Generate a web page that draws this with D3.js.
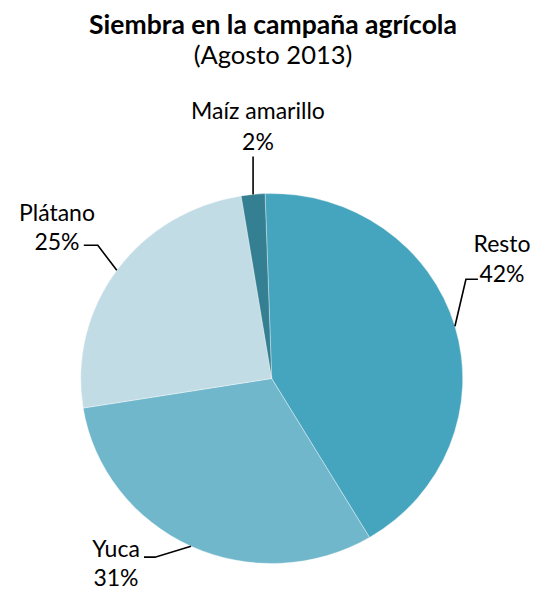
<!DOCTYPE html>
<html>
<head>
<meta charset="utf-8">
<script src="https://cdn.jsdelivr.net/npm/d3@7"></script>
<style>
  html, body { margin: 0; padding: 0; background: #fff; }
  svg { display: block; }
  text { font-family: Lato, "Noto Sans", sans-serif; fill: #000; }
</style>
</head>
<body>
<script>
// ---- data ----
const categories = ["Resto", "Yuca", "Plátano", "Maíz amarillo"];
const values = [42, 31, 25, 2];
const labels = ["42%", "31%", "25%", "2%"];
const colors = ["#46a5be", "#71b7cc", "#c2dce5", "#357f92"];
const titleText = "Siembra en la campaña agrícola";
const subtitleText = "(Agosto 2013)";

// ---- layout ----
const W = 533, H = 590;
const cx = 271.7, cy = 378.5;
const rx = 191, ry = 185;
const startDeg = -2;

const svg = d3.select("body").append("svg").attr("width", W).attr("height", H);

svg.append("text").attr("x", 273).attr("y", 34).attr("text-anchor", "middle")
  .style("font-weight", "bold").style("font-size", "26.5px").text(titleText);
svg.append("text").attr("x", 273).attr("y", 64).attr("text-anchor", "middle")
  .style("font-size", "25.5px").text(subtitleText);

const pie = d3.pie().sort(null).value(d => d)
  .startAngle(startDeg * Math.PI / 180)
  .endAngle((startDeg + 360) * Math.PI / 180);
const arcs = pie(values);
const arc = d3.arc().innerRadius(0).outerRadius(rx);

const g = svg.append("g").attr("transform", `translate(${cx},${cy}) scale(1,${ry / rx})`);
g.selectAll("path").data(arcs).join("path")
  .attr("d", arc)
  .attr("fill", (d, i) => colors[i])
  .attr("stroke", "#ffffff").attr("stroke-width", 0.6).attr("stroke-opacity", 0.6);

// label layout: elbow offsets and text anchors, per category
const labelLayout = [
  { elbow: [11, -47], end: [23, -47], tx: 502, ty1: 252, ty2: 282, anchor: "middle" },   // Resto
  { elbow: [-36, 11], end: [-47, 11], tx: 116, ty1: 557, ty2: 586, anchor: "middle" },   // Yuca
  { elbow: [-19, -25], end: [-33, -25], tx: 57, ty1: 221, ty2: 250, anchor: "middle" },  // Plátano
  { elbow: [0, -38], end: [0, -38], tx: 258, ty1: 119, ty2: 150, anchor: "middle" }       // Maíz
];

arcs.forEach((d, i) => {
  const mid = (d.startAngle + d.endAngle) / 2;
  const px = cx + rx * Math.sin(mid);
  const py = cy - ry * Math.cos(mid);
  const L = labelLayout[i];
  const pts = [[px, py], [px + L.elbow[0], py + L.elbow[1]], [px + L.end[0], py + L.end[1]]];
  svg.append("path")
    .attr("d", d3.line()(pts))
    .attr("fill", "none").attr("stroke", "#000").attr("stroke-width", 1.6);
  svg.append("text").attr("x", L.tx).attr("y", L.ty1).attr("text-anchor", L.anchor)
    .style("font-size", "23px").text(categories[i]);
  svg.append("text").attr("x", L.tx).attr("y", L.ty2).attr("text-anchor", L.anchor)
    .style("font-size", "23px").text(labels[i]);
});
</script>
</body>
</html>
